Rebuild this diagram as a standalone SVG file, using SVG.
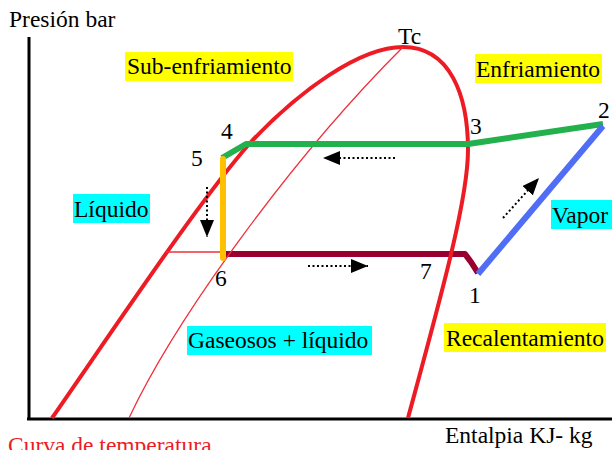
<svg xmlns="http://www.w3.org/2000/svg" width="612" height="450" viewBox="0 0 612 450">
<defs>
<style>
text{font-family:"Liberation Serif","Times New Roman",serif;font-size:23.5px;fill:#000}
.red{fill:#ed1c24}
.curve{fill:none;stroke:#ed1c24;stroke-width:4;stroke-linejoin:round}
.thin{fill:none;stroke:#f0303c;stroke-width:1.3}
.cyc{fill:none;stroke-width:6;stroke-linejoin:round}
.dot{fill:none;stroke:#000;stroke-width:2;stroke-dasharray:2 2.5;marker-end:url(#ah)}
.hy{fill:#ffff00}
.hc{fill:#00ffff}
</style>
<marker id="ah" markerUnits="userSpaceOnUse" markerWidth="18" markerHeight="14" refX="17" refY="7" orient="auto"><path d="M0,0 L17,7 L0,14 z" fill="#000"/></marker>
</defs>
<rect width="612" height="450" fill="#fff"/>
<g id="axes" stroke="#000" stroke-width="3" fill="none">
<path d="M29,37 V420"/>
<path d="M27,419 H612"/>
</g>
<g id="connectors">
<path id="c-7-1" class="cyc" stroke="#99002f" d="M223,254 L465,254 L471,262 L478,273"/>
<path id="dome" class="curve" d="M52,418 C120,320 200,200 250,143 C300,90 360,47 403,47 C450,47 468,95 468,150 C468,200 440,300 408,418"/>
<path id="quality" class="thin" d="M129,418 C175,320 290,160 403,47"/>
<path id="tie" class="thin" d="M166,252 L223,252"/>
<path id="c-2-3-4-5" class="cyc" stroke="#22b14c" d="M222,158 L246,144 L468,144 L603,124"/>
<path id="c-5-6" class="cyc" stroke="#ffc000" stroke-width="5" stroke-linecap="round" d="M223,159 L223,258"/>
<path id="c-1-2" class="cyc" stroke="#4f6df5" d="M478,274 L603,126"/>
<path class="dot" d="M395,158 L323,158"/>
<path class="dot" d="M308,266 L368,266"/>
<path class="dot" d="M207,187 L207,237"/>
<path class="dot" d="M503,218 L539,178"/>
</g>
<g id="label-presion"><text x="9" y="27">Presión bar</text></g>
<g id="label-sub"><rect class="hy" x="125" y="52" width="168" height="29"/><text x="127" y="74">Sub-enfriamiento</text></g>
<g id="label-enf"><rect class="hy" x="475" y="54" width="127" height="29"/><text x="476" y="77">Enfriamiento</text></g>
<g id="label-tc"><text x="398" y="44">Tc</text></g>
<g id="p2"><text x="598" y="118">2</text></g>
<g id="p3"><text x="470" y="134">3</text></g>
<g id="p4"><text x="221" y="139">4</text></g>
<g id="p5"><text x="191" y="166">5</text></g>
<g id="p6"><text x="215" y="286">6</text></g>
<g id="p7"><text x="420" y="279">7</text></g>
<g id="p1"><text x="469" y="303">1</text></g>
<g id="label-liquido"><rect class="hc" x="73" y="194" width="77" height="29"/><text x="74" y="217">Líquido</text></g>
<g id="label-vapor"><rect class="hc" x="551" y="200" width="61" height="29"/><text x="552" y="223">Vapor</text></g>
<g id="label-gas"><rect class="hc" x="187" y="326" width="185" height="29"/><text x="188" y="348">Gaseosos + líquido</text></g>
<g id="label-rec"><rect class="hy" x="444" y="323" width="162" height="29"/><text x="446" y="346">Recalentamiento</text></g>
<g id="label-ent"><text x="445" y="443">Entalpia KJ- kg</text></g>
<g id="label-curva"><text class="red" x="8" y="453">Curva de temperatura</text></g>
</svg>
